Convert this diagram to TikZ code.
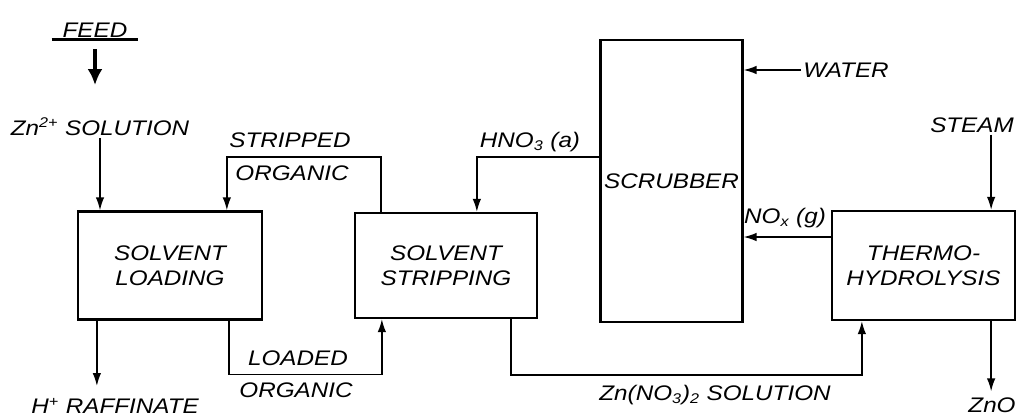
\documentclass[tikz,border=0pt]{standalone}
\usepackage{fontspec}
\setmainfont{Liberation Sans}[FakeStretch=1.15]
\usetikzlibrary{arrows.meta}

\begin{document}
\begin{tikzpicture}[x=0.02cm,y=-0.02cm,
  unit/.style={draw,line width=1.3pt,align=center,inner sep=2pt},
  tag/.style={inner sep=1pt},
  arr/.style={line width=0.9pt,-{Latex[length=2.6mm,width=1.7mm]}},
  bigarr/.style={line width=2.4pt,-{Latex[length=3.2mm,width=3mm]}},
  every node/.style={font=\itshape\fontsize{12}{14.2}\selectfont}]
\useasboundingbox (0,0) rectangle (1017,419);

\node[unit,minimum width=3.68cm,minimum height=2.16cm] (load) at (170,265.5) {SOLVENT\\LOADING};
\node[unit,minimum width=3.64cm,minimum height=2.10cm] (strip) at (446,265.5) {SOLVENT\\STRIPPING};
\node[unit,minimum width=2.66cm,minimum height=5.64cm] (scrub) at (671.5,181) {SCRUBBER};
\node[unit,minimum width=3.66cm,minimum height=2.18cm] (thermo) at (923.5,265.5) {THERMO-\\HYDROLYSIS};

\node[tag,minimum width=1.72cm] (feed) at (95,30) {FEED};
\node[tag] (zn) at (100,127) {Zn\textsuperscript{2+} SOLUTION};
\node[tag] (stripped) at (290,140) {STRIPPED};
\node[tag] (orgA) at (292,173) {ORGANIC};
\node[tag] (raff) at (115,406) {H\textsuperscript{+} RAFFINATE};
\node[tag] (loaded) at (298,358) {LOADED};
\node[tag] (orgB) at (296,390) {ORGANIC};
\node[tag] (hno) at (530,142) {HNO\textsubscript{3} (a)};
\node[tag] (water) at (846,70) {WATER};
\node[tag] (nox) at (785,218) {NO\textsubscript{x} (g)};
\node[tag] (steam) at (972,125) {STEAM};
\node[tag] (zno) at (992,405) {ZnO};
\node[tag] (sol) at (715,395) {Zn(NO\textsubscript{3})\textsubscript{2} SOLUTION};

\draw[line width=1.6pt] (feed.south west) -- (feed.south east);
\draw[bigarr,shorten <=0.2cm,shorten >=0.62cm] (feed.south) -- (feed.south |- zn.north);
\draw[arr] (zn.south) -- (zn.south |- load.north);
\draw[arr] ([xshift=0.54cm]strip.north west) -- ++(0,-55) -| ([xshift=3cm]load.north west);
\draw[arr,shorten >=0.2cm] ([xshift=0.4cm]load.south west) -- ([xshift=0.4cm]load.south west |- raff.north);
\draw[arr] ([xshift=3.04cm]load.south west) -- ++(0,54) -| ([xshift=0.56cm]strip.south west);
\draw[arr] ([yshift=0.48cm]scrub.west) -| ([xshift=2.46cm]strip.north west);
\draw[arr] (water.west) -- (water.west -| scrub.east);
\draw[arr] ([yshift=0.57cm]thermo.west) -- ([yshift=0.57cm]thermo.west -| scrub.east);
\draw[arr] ([xshift=-0.5cm]thermo.north east |- steam.south) -- ([xshift=-0.5cm]thermo.north east);
\draw[arr,shorten >=0.08cm] ([xshift=-0.5cm]thermo.south east) -- ([xshift=-0.5cm]thermo.south east |- zno.north);
\draw[arr] ([xshift=3.14cm]strip.south west) -- ++(0,56) -| ([xshift=0.62cm]thermo.south west);
\end{tikzpicture}
\end{document}
